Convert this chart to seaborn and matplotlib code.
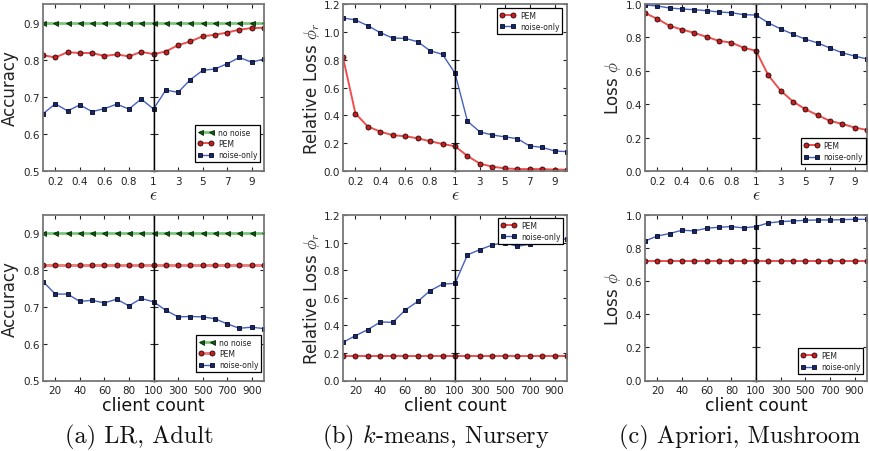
import matplotlib
matplotlib.use("Agg")
import matplotlib.pyplot as plt
import seaborn as sns
import pandas as pd

# ---------------- data ----------------
eps = [0.1, 0.2, 0.3, 0.4, 0.5, 0.6, 0.7, 0.8, 0.9, 1, 2, 3, 4, 5, 6, 7, 8, 9, 10]
clients = [10, 20, 30, 40, 50, 60, 70, 80, 90, 100, 200, 300, 400, 500, 600, 700, 800, 900, 1000]

lr_eps_nonoise = [0.9, 0.9, 0.9, 0.9, 0.9, 0.9, 0.9, 0.9, 0.9, 0.9, 0.9, 0.9, 0.9, 0.9, 0.9, 0.9, 0.9, 0.9, 0.9]
lr_eps_pem = [0.812, 0.806, 0.820, 0.818, 0.818, 0.810, 0.814, 0.809, 0.821, 0.815,
              0.822, 0.839, 0.849, 0.863, 0.867, 0.873, 0.881, 0.885, 0.886]
lr_eps_noise = [0.654, 0.681, 0.662, 0.678, 0.660, 0.668, 0.680, 0.667, 0.694, 0.667,
                0.718, 0.712, 0.746, 0.771, 0.775, 0.789, 0.806, 0.793, 0.802]

km_eps_pem = [0.816, 0.413, 0.319, 0.283, 0.257, 0.250, 0.235, 0.214, 0.194, 0.178,
              0.108, 0.053, 0.031, 0.019, 0.014, 0.014, 0.014, 0.010, 0.010]
km_eps_noise = [1.100, 1.085, 1.044, 0.994, 0.955, 0.953, 0.929, 0.864, 0.838, 0.703,
                0.358, 0.281, 0.259, 0.245, 0.233, 0.180, 0.170, 0.144, 0.139]

ap_eps_pem = [0.946, 0.911, 0.869, 0.847, 0.827, 0.803, 0.779, 0.769, 0.738, 0.720,
              0.573, 0.481, 0.416, 0.370, 0.334, 0.300, 0.282, 0.260, 0.246]
ap_eps_noise = [0.994, 0.988, 0.976, 0.970, 0.966, 0.960, 0.952, 0.948, 0.936, 0.934,
                0.887, 0.851, 0.819, 0.789, 0.767, 0.736, 0.708, 0.688, 0.671]

lr_cc_nonoise = [0.9, 0.9, 0.9, 0.9, 0.9, 0.9, 0.9, 0.9, 0.9, 0.9, 0.9, 0.9, 0.9, 0.9, 0.9, 0.9, 0.9, 0.9, 0.9]
lr_cc_pem = [0.813, 0.813, 0.813, 0.813, 0.813, 0.813, 0.813, 0.813, 0.813, 0.813,
             0.813, 0.813, 0.813, 0.813, 0.813, 0.813, 0.813, 0.813, 0.813]
lr_cc_noise = [0.769, 0.735, 0.735, 0.715, 0.718, 0.711, 0.721, 0.703, 0.723, 0.714,
               0.691, 0.673, 0.674, 0.673, 0.668, 0.654, 0.642, 0.645, 0.641]

km_cc_pem = [0.176, 0.176, 0.176, 0.176, 0.176, 0.176, 0.176, 0.176, 0.176, 0.176,
             0.176, 0.176, 0.176, 0.176, 0.176, 0.176, 0.176, 0.176, 0.176]
km_cc_noise = [0.277, 0.325, 0.369, 0.424, 0.422, 0.511, 0.573, 0.651, 0.699, 0.704,
               0.911, 0.949, 0.983, 1.000, 0.973, 0.988, 1.024, 1.020, 1.027]

ap_cc_pem = [0.720, 0.720, 0.720, 0.720, 0.720, 0.720, 0.720, 0.720, 0.720, 0.720,
             0.720, 0.720, 0.720, 0.720, 0.720, 0.720, 0.720, 0.720, 0.720]
ap_cc_noise = [0.843, 0.873, 0.888, 0.908, 0.904, 0.920, 0.926, 0.930, 0.922, 0.930,
               0.952, 0.960, 0.964, 0.968, 0.970, 0.970, 0.972, 0.974, 0.974]

eps_ticks_left = [0.2, 0.4, 0.6, 0.8, 1.0]
eps_ticklabels_left = ["0.2", "0.4", "0.6", "0.8", "1"]
eps_ticks_right = [1, 3, 5, 7, 9]
eps_ticklabels_right = ["", "3", "5", "7", "9"]
cc_ticks_left = [20, 40, 60, 80, 100]
cc_ticklabels_left = ["20", "40", "60", "80", "100"]
cc_ticks_right = [100, 300, 500, 700, 900]
cc_ticklabels_right = ["", "300", "500", "700", "900"]

captions = ["(a) LR, Adult", "(b) $k$-means, Nursery", "(c) Apriori, Mushroom"]

# ---------------- style ----------------
sns.set_style("white")
plt.rcParams["font.family"] = ["DejaVu Sans"]
plt.rcParams["mathtext.fontset"] = "cm"

STY = {
    "no noise": dict(color="#7cc47c", lw=2.0, marker="<", mfc="#0a5a0a", mec="#062a06", ms=3.6, mew=0.6),
    "PEM": dict(color="#ee5050", lw=1.4, marker="o", mfc="#c41e1e", mec="#2a0606", ms=3.6, mew=0.6),
    "noise-only": dict(color="#4660c0", lw=1.0, marker="s", mfc="#14286e", mec="#06061e", ms=3.4, mew=0.6),
}

W, H = 869.0, 452.0
fig = plt.figure(figsize=(8.69, 4.52), dpi=100)


def rect(x0, x1, ytop, ybot):
    return [x0 / W, (H - ybot) / H, (x1 - x0) / W, (ybot - ytop) / H]


def panel(xs, series, xl, xm, xr, ytop, ybot, xlim_l, xlim_r, ticks_l, labs_l,
          ticks_r, labs_r, ylim, yticks, ylabels, ylabel, ylab_x, leg_loc, leg_anchor,
          overrides=None):
    overrides = overrides or {}
    axL = fig.add_axes(rect(xl, xm, ytop, ybot))
    axR = fig.add_axes(rect(xm, xr, ytop, ybot))
    df = pd.DataFrame({"x": xs})
    split = xs[9]
    for name, vals in series:
        df["y"] = vals
        st = dict(STY[name])
        st.update(overrides.get(name, {}))
        kw = dict(color=st["color"], linewidth=st["lw"], marker=st["marker"],
                  markerfacecolor=st["mfc"], markeredgecolor=st["mec"],
                  markersize=st["ms"], markeredgewidth=st["mew"], errorbar=None)
        sns.lineplot(data=df[df["x"] <= split], x="x", y="y", ax=axL, legend=False, **kw)
        sns.lineplot(data=df[df["x"] >= split], x="x", y="y", ax=axR, label=name, legend=False, **kw)
    for ax, lim, tk, lb in ((axL, xlim_l, ticks_l, labs_l), (axR, xlim_r, ticks_r, labs_r)):
        ax.set_xlim(*lim)
        ax.set_ylim(*ylim)
        ax.set_xticks(tk)
        ax.set_xticklabels(lb)
        ax.set_yticks(yticks)
        ax.set_xlabel("")
        ax.set_ylabel("")
        ax.tick_params(direction="in", top=True, right=True, bottom=True, left=True,
                       length=3, width=0.8, colors="#222222", labelsize=7.5)
        ax.tick_params(axis="y", pad=2)
        ax.tick_params(axis="x", pad=3.5)
        for s in ax.spines.values():
            s.set_color("#777777")
            s.set_linewidth(1.3)
    axL.set_yticklabels(ylabels)
    axR.set_yticklabels([])
    axL.spines["right"].set_color("black")
    axL.spines["right"].set_linewidth(1.0)
    axR.spines["left"].set_color("black")
    axR.spines["left"].set_linewidth(1.0)
    axL.set_ylabel(ylabel, fontsize=12, color="#222222")
    axL.yaxis.set_label_coords(ylab_x, 0.5)
    h, l = axR.get_legend_handles_labels()
    leg = axR.legend(h, l, loc=leg_loc, bbox_to_anchor=leg_anchor, borderaxespad=0,
                     fontsize=5.5, numpoints=2, handlelength=2.0, labelspacing=0.3,
                     borderpad=0.35, handletextpad=0.6, fancybox=False, framealpha=1)
    leg.get_frame().set_edgecolor("black")
    leg.get_frame().set_linewidth(0.9)
    for t in leg.get_texts():
        t.set_color("#222222")
    return axL, axR


TOP = (5, 172)
BOT = (216, 381.5)
cols = [(43, 153.5, 264), (343, 455, 567), (645, 756, 867)]
caption_x = [139.5, 436, 740]

acc_ticks = [0.5, 0.6, 0.7, 0.8, 0.9]
acc_labs = ["0.5", "0.6", "0.7", "0.8", "0.9"]
rl_ticks = [0.0, 0.2, 0.4, 0.6, 0.8, 1.0, 1.2]
rl_labs = ["0.0", "0.2", "0.4", "0.6", "0.8", "1.0", "1.2"]
ls_ticks = [0.0, 0.2, 0.4, 0.6, 0.8, 1.0]
ls_labs = ["0.0", "0.2", "0.4", "0.6", "0.8", "1.0"]

# top row (epsilon)
panel(eps, [("no noise", lr_eps_nonoise), ("PEM", lr_eps_pem), ("noise-only", lr_eps_noise)],
      *cols[0], *TOP, (0.1, 1.0), (1, 10), eps_ticks_left, eps_ticklabels_left,
      eps_ticks_right, eps_ticklabels_right, (0.5, 0.95), acc_ticks, acc_labs,
      "Accuracy", -0.215, "lower right", (0.964, 0.054))
panel(eps, [("PEM", km_eps_pem), ("noise-only", km_eps_noise)],
      *cols[1], *TOP, (0.1, 1.0), (1, 10), eps_ticks_left, eps_ticklabels_left,
      eps_ticks_right, eps_ticklabels_right, (0.0, 1.2), rl_ticks, rl_labs,
      r"Relative Loss $\phi_r$", -0.19, "upper right", (0.955, 0.976))
panel(eps, [("PEM", ap_eps_pem), ("noise-only", ap_eps_noise)],
      *cols[2], *TOP, (0.1, 1.0), (1, 10), eps_ticks_left, eps_ticklabels_left,
      eps_ticks_right, eps_ticklabels_right, (0.0, 1.0), ls_ticks, ls_labs,
      r"Loss $\phi$", -0.195, "lower right", (0.99, 0.042))

# bottom row (client count)
panel(clients, [("no noise", lr_cc_nonoise), ("PEM", lr_cc_pem), ("noise-only", lr_cc_noise)],
      *cols[0], *BOT, (10, 100), (100, 1000), cc_ticks_left, cc_ticklabels_left,
      cc_ticks_right, cc_ticklabels_right, (0.5, 0.95), acc_ticks, acc_labs,
      "Accuracy", -0.215, "lower right", (0.973, 0.051),
      overrides={"PEM": dict(lw=2.2, color="#f08080")})
panel(clients, [("PEM", km_cc_pem), ("noise-only", km_cc_noise)],
      *cols[1], *BOT, (10, 100), (100, 1000), cc_ticks_left, cc_ticklabels_left,
      cc_ticks_right, cc_ticklabels_right, (0.0, 1.2), rl_ticks, rl_labs,
      r"Relative Loss $\phi_r$", -0.19, "upper right", (0.964, 0.982))
panel(clients, [("PEM", ap_cc_pem), ("noise-only", ap_cc_noise)],
      *cols[2], *BOT, (10, 100), (100, 1000), cc_ticks_left, cc_ticklabels_left,
      cc_ticks_right, cc_ticklabels_right, (0.0, 1.0), ls_ticks, ls_labs,
      r"Loss $\phi$", -0.195, "lower right", (0.964, 0.039))

for i, (x0, xm, x1) in enumerate(cols):
    cx = (x0 + x1) / 2 / W
    fig.text(cx, 1 - 195 / H, r"$\epsilon$", ha="center", va="center", fontsize=13, color="#222222")
    fig.text(cx, 1 - 406 / H, "client count", ha="center", va="center", fontsize=12.5, color="#111111")
    fig.text(caption_x[i] / W, 1 - 437 / H, captions[i], ha="center", va="center", fontsize=17.5,
             family="cmr10", color="#111111")

fig.savefig("out.png", dpi=100)
